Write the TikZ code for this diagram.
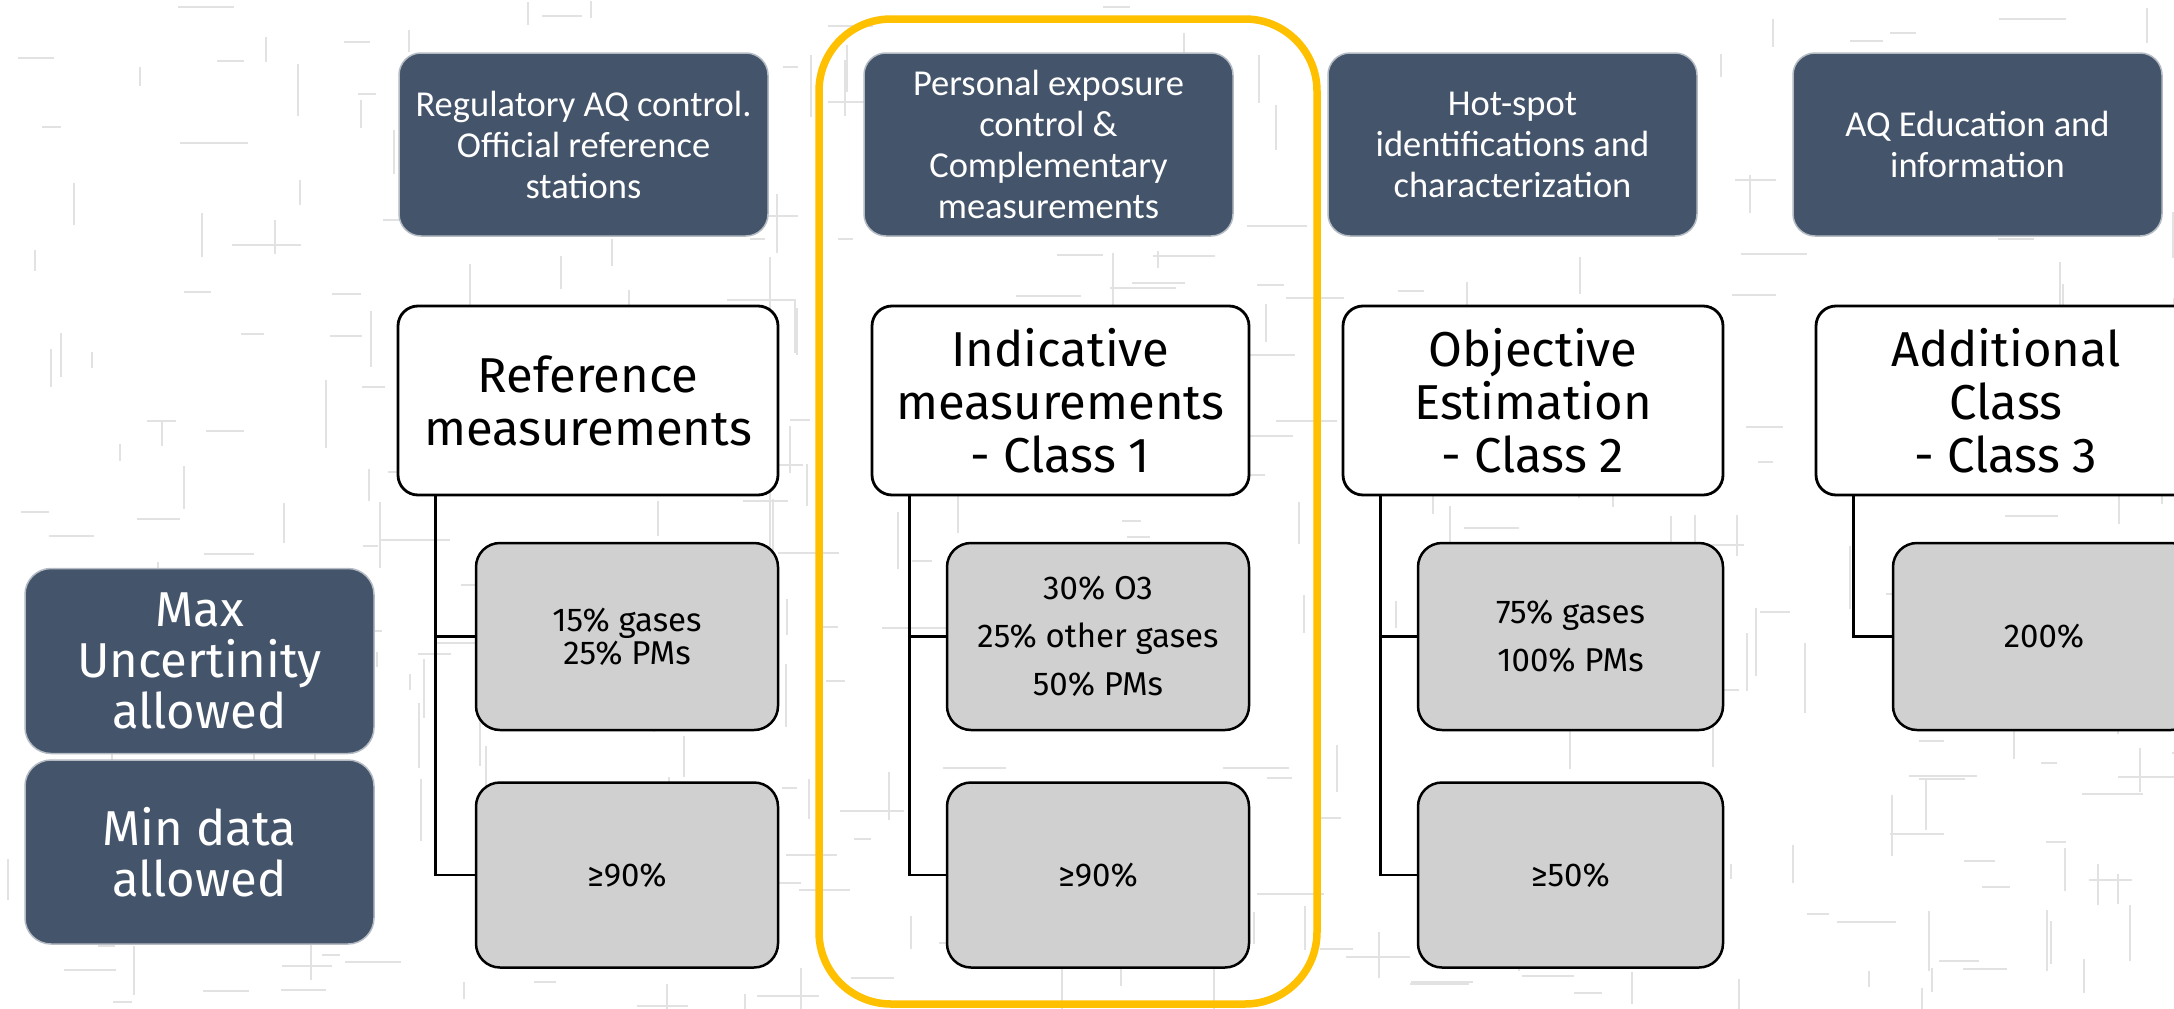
\documentclass[tikz,border=0pt]{standalone}
\usepackage{fontspec}
\setmainfont{Carlito}
\newfontfamily\ubu{Fira Sans}
\usetikzlibrary{calc}
\definecolor{hdr}{HTML}{44546A}
\definecolor{gbox}{HTML}{D0D0D0}
\definecolor{hl}{HTML}{FFC000}
\definecolor{tex}{HTML}{E2E2E2}
\begin{document}
\begin{tikzpicture}[x=1pt,y=-1pt,
  hdrbox/.style={fill=hdr, draw=hdr!40!white, line width=1.5pt, rounded corners=22pt,
    text=white, align=center, inner sep=0pt, minimum width=369, minimum height=183,
    font=\fontsize{36.5}{41}\selectfont},
  sidebox/.style={fill=hdr, draw=hdr!40!white, line width=1.5pt, rounded corners=26pt,
    text=white, align=center, inner sep=0pt, minimum width=349, minimum height=185,
    font=\ubu\fontsize{49}{51}\selectfont},
  classbox/.style={fill=white, draw=black, line width=2.8pt, rounded corners=20pt,
    align=center, inner sep=0pt, minimum width=380, minimum height=189,
    font=\ubu\fontsize{49}{53}\selectfont},
  valbox/.style={fill=gbox, draw=black, line width=2.5pt, rounded corners=24pt,
    align=center, inner sep=0pt, minimum width=302, minimum height=187,
    font=\ubu\fontsize{33}{40}\selectfont},
  conn/.style={draw=black, line width=2.6pt},
  texline/.style={draw=tex, line width=2pt}
]
\clip (0,0) rectangle (2174,1009);
\fill[white] (0,0) rectangle (2174,1009);

% faint background texture
\pgfmathsetseed{4242}
\foreach \i in {1,...,420}{
  \pgfmathsetmacro{\tx}{random(0,2174)}
  \pgfmathsetmacro{\ty}{random(0,1009)}
  \pgfmathsetmacro{\tl}{random(15,70)}
  \pgfmathsetmacro{\to}{random(0,1)}
  \ifdim\to pt>0.5pt
    \draw[texline] (\tx,\ty) -- ++(\tl,0);
  \else
    \draw[texline] (\tx,\ty) -- ++(0,\tl);
  \fi
}

% highlight frame
\draw[hl, line width=7.5pt, rounded corners=72pt] (819,19) rectangle (1317,1004);

% header boxes
\node[hdrbox] (h1) at (583.5,144.5) {Regulatory AQ control.\\Official reference\\stations};
\node[hdrbox] (h2) at (1048.5,144.5) {Personal exposure\\control \&\\Complementary\\measurements};
\node[hdrbox] (h3) at (1512.5,144.5) {Hot-spot\\identifications and\\characterization};
\node[hdrbox] (h4) at (1977.5,144.5) {AQ Education and\\information};

% class boxes
\node[classbox] (c1) at (588,400.5) {Reference\\measurements};
\node[classbox, minimum width=377] (c2) at (1060.5,400.5) {Indicative\\measurements\\- Class 1};
\node[classbox] (c3) at (1533,400.5) {Objective\\Estimation\\- Class 2};
\node[classbox] (c4) at (2006,400.5) {Additional\\Class\\- Class 3};

% value boxes
\node[valbox, font=\ubu\fontsize{33}{33}\selectfont] (u1) at (627,636.5) {15\% gases\\25\% PMs};
\node[valbox, font=\ubu\fontsize{33}{48}\selectfont] (u2) at (1098,636.5) {30\% O3\\25\% other gases\\50\% PMs};
\node[valbox, minimum width=305, font=\ubu\fontsize{33}{48}\selectfont] (u3) at (1570.5,636.5) {75\% gases\\100\% PMs};
\node[valbox] (u4) at (2044,636.5) {200\%};

\node[valbox, minimum height=185] (d1) at (627,875) {≥90\%};
\node[valbox, minimum height=185] (d2) at (1098,875) {≥90\%};
\node[valbox, minimum height=185, minimum width=305] (d3) at (1570.5,875) {≥50\%};

% side labels
\node[sidebox] (s1) at (199.5,661) {Max\\Uncertinity\\allowed};
\node[sidebox, minimum height=184] (s2) at (199.5,852) {Min data\\allowed};

% connectors
\coordinate (v1) at ($(c1.south west)+(39,0)$);
\coordinate (v2) at ($(c2.south west)+(39,0)$);
\coordinate (v3) at ($(c3.south west)+(39,0)$);
\coordinate (v4) at ($(c4.south west)+(39,0)$);
\draw[conn] (v1) |- (u1.west);
\draw[conn] (v1) |- (d1.west);
\draw[conn] (v2) |- (u2.west);
\draw[conn] (v2) |- (d2.west);
\draw[conn] (v3) |- (u3.west);
\draw[conn] (v3) |- (d3.west);
\draw[conn] (v4) |- (u4.west);
\end{tikzpicture}
\end{document}
